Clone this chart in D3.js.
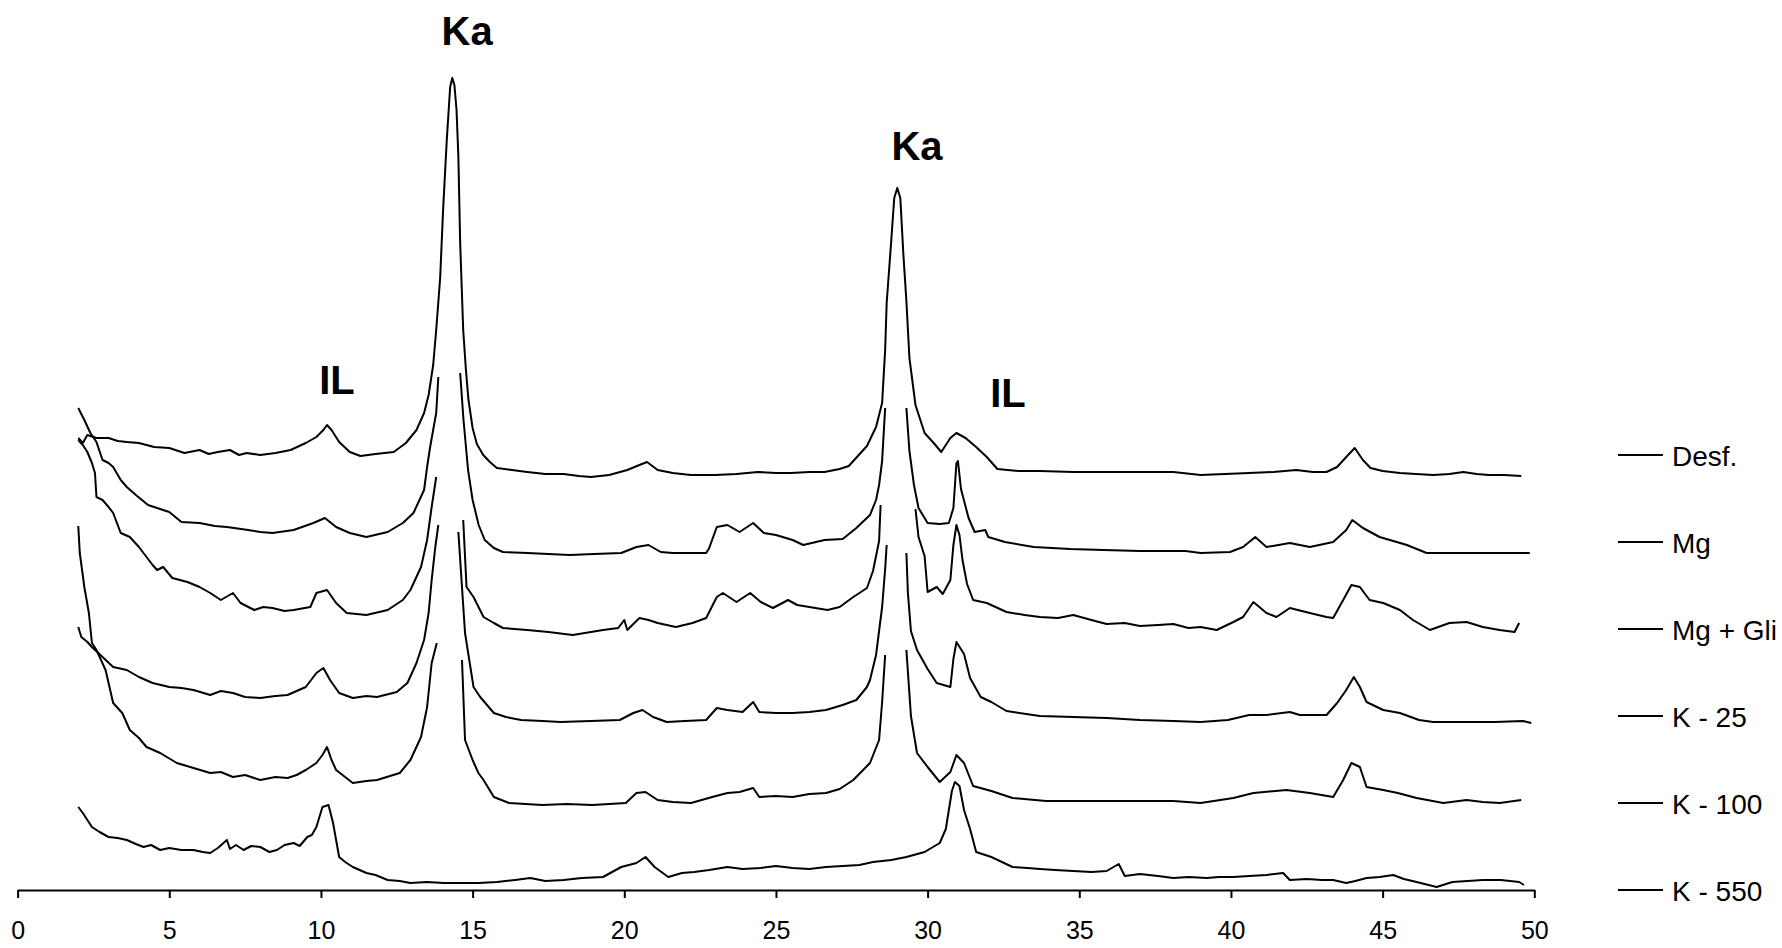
<!DOCTYPE html>
<html>
<head>
<meta charset="utf-8">
<script src="https://cdn.jsdelivr.net/npm/d3@7"></script>
<style>
  html, body { margin: 0; padding: 0; background: #fff; }
  svg { display: block; }
  text { font-family: "Liberation Sans", Arial, sans-serif; fill: #000; }
</style>
</head>
<body>
<svg id="chart" width="1782" height="948"></svg>
<script>
// 2-theta (degrees) vs relative intensity (a.u., vertically offset traces). null = gap in trace
const xTicks = [0, 5, 10, 15, 20, 25, 30, 35, 40, 45, 50];
const seriesNames = ["Desf.", "Mg", "Mg + Gli", "K - 25", "K - 100", "K - 550"];

const desf = [
[2.0,452],[2.15,447],[2.3,455],[2.6,452],[3.0,452],[3.3,449],[3.6,448],[4.0,447],[4.5,443],[5.0,442],[5.5,437],[6.0,440],[6.3,436],[6.6,438],[7.0,440],[7.3,435],[7.55,437],[8.0,435],[8.5,437],[9.0,440],[9.5,447],[9.85,453],[10.08,460],[10.2,465],[10.35,460],[10.6,448],[10.95,438],[11.3,434],[11.8,436],[12.4,438],[12.8,447],[13.15,460],[13.4,477],[13.55,495],[13.7,525],[13.8,560],[13.93,612],[14.03,682],[14.15,751],[14.26,803],[14.33,812],[14.4,805],[14.47,780],[14.53,734],[14.59,647],[14.69,560],[14.78,520],[14.86,491],[15.0,462],[15.14,446],[15.35,435],[15.57,428],[15.8,422],[16.3,420],[16.8,418],[17.4,416],[18.0,416],[18.5,414],[18.9,413],[19.5,415],[20.1,420],[20.5,425],[20.75,428],[21.1,420],[21.6,417],[22.2,415],[23.0,415],[23.7,416],[24.4,418],[25.0,417],[25.5,417],[26.1,418],[26.6,418],[27.1,421],[27.4,424],[28.0,444],[28.3,463],[28.5,487],[28.6,540],[28.65,587],[28.8,649],[28.9,692],[29.0,702],[29.1,692],[29.2,636],[29.3,589],[29.4,532],[29.6,485],[29.9,457],[30.2,447],[30.45,438],[30.75,452],[30.95,457],[31.25,452],[31.6,443],[31.95,433],[32.3,421],[33.0,419],[33.7,419],[34.8,418],[35.9,418],[37.0,418],[38.1,418],[39.0,415],[39.8,416],[40.6,417],[41.4,418],[42.15,420],[42.7,418],[43.15,418],[43.5,423],[43.8,433],[44.08,442],[44.35,430],[44.6,422],[45.0,419],[45.57,417],[46.1,416],[46.67,415],[47.2,416],[47.66,418],[48.1,416],[48.5,415],[49.0,415],[49.57,414]
];

const mg = [
[2.0,482],[2.1,476],[2.2,470],[2.4,457],[2.6,448],[2.8,430],[3.0,427],[3.15,423],[3.4,410],[3.6,403],[3.9,395],[4.3,385],[4.6,382],[5.0,378],[5.4,368],[6.0,367],[6.5,364],[6.9,363],[7.6,360],[8.0,358],[8.4,357],[9.1,360],[9.75,367],[10.13,372],[10.5,363],[10.95,357],[11.5,353],[12.2,358],[12.7,367],[13.05,377],[13.4,400],[13.5,423],[13.6,443],[13.8,477],[13.87,513],
[13.9,null],
[14.59,517],[14.7,470],[14.85,420],[15.0,390],[15.2,365],[15.4,350],[15.7,342],[16.0,338],[16.8,337],[17.5,336],[18.2,335],[19.0,336],[19.9,337],[20.4,343],[20.8,345],[21.2,338],[21.6,337],[22.2,337],[22.7,337],[22.8,342],[23.05,363],[23.4,365],[23.8,358],[24.25,367],[24.6,357],[25.0,355],[25.55,350],[25.9,345],[26.6,350],[27.2,351],[27.65,362],[28.1,375],[28.3,390],[28.4,405],[28.5,429],[28.6,482],
[28.9,null],
[29.3,482],[29.4,439],[29.55,405],[29.7,382],[30.0,367],[30.4,366],[30.7,367],[30.85,382],[30.95,427],[31.0,429],[31.1,401],[31.35,372],[31.55,358],[31.9,360],[32.0,353],[32.55,348],[33.5,343],[34.7,341],[35.8,340],[37.0,339],[38.5,339],[39.0,337],[39.97,338],[40.4,343],[40.8,353],[41.17,343],[41.94,347],[42.6,343],[43.37,348],[43.8,360],[44.0,370],[44.35,362],[44.9,353],[45.8,345],[46.45,337],[47.77,337],[49.0,337],[49.85,337]
];

const mgGli = [
[2.0,450],[2.15,445],[2.3,438],[2.45,427],[2.55,417],[2.6,393],[2.8,390],[3.0,383],[3.15,377],[3.4,357],[3.7,353],[4.0,343],[4.25,333],[4.45,325],[4.6,320],[4.8,323],[5.1,312],[5.6,308],[6.0,303],[6.35,297],[6.7,290],[7.1,297],[7.35,287],[7.8,280],[8.1,283],[8.4,282],[8.8,279],[9.1,280],[9.65,283],[9.85,297],[10.2,300],[10.5,287],[10.85,277],[11.5,275],[12.2,280],[12.7,290],[12.95,300],[13.3,323],[13.5,350],[13.65,383],[13.8,413],
[14.2,null],
[14.69,370],[14.8,303],[15.03,293],[15.36,273],[15.7,267],[16.0,262],[16.8,260],[17.5,258],[18.3,255],[19.3,260],[19.8,262],[20.0,270],[20.1,260],[20.5,272],[20.8,270],[21.1,267],[21.7,263],[22.25,267],[22.7,272],[23.05,293],[23.25,297],[23.5,292],[23.7,288],[24.15,297],[24.5,288],[24.9,282],[25.4,290],[25.7,285],[26.1,283],[26.7,280],[27.1,283],[27.55,293],[28.0,302],[28.2,319],[28.4,349],[28.45,385],
[29.0,null],
[29.6,381],[29.7,353],[29.9,334],[30.0,298],[30.3,303],[30.5,296],[30.75,310],[30.85,345],[30.95,365],[31.05,355],[31.15,330],[31.3,306],[31.5,290],[31.95,287],[32.6,278],[33.2,275],[33.7,273],[34.3,272],[34.8,275],[35.4,270],[35.9,266],[36.5,267],[37.0,264],[37.6,265],[38.1,266],[38.6,262],[39.0,263],[39.53,260],[40.08,268],[40.4,273],[40.74,288],[41.17,277],[41.5,273],[41.94,282],[42.6,277],[43.15,273],[43.37,272],[43.7,290],[43.97,305],[44.25,303],[44.57,290],[45.02,287],[45.57,280],[46.0,270],[46.56,260],[47.2,267],[47.77,268],[48.3,263],[48.86,260],[49.35,258],[49.5,267]
];

const k25 = [
[2.0,263],[2.1,253],[2.3,248],[2.45,243],[2.8,233],[3.15,223],[3.6,220],[4.0,213],[4.45,207],[5.0,203],[5.4,202],[5.8,200],[6.35,195],[6.7,199],[7.1,197],[7.5,193],[8.0,192],[8.5,194],[8.9,195],[9.5,203],[9.85,217],[10.08,222],[10.3,210],[10.6,197],[11.05,192],[11.5,194],[11.85,193],[12.5,198],[12.85,207],[13.15,227],[13.4,250],[13.55,277],[13.65,310],[13.77,343],[13.87,365],
[14.2,null],
[14.53,358],[14.75,257],[15.03,203],[15.25,193],[15.7,177],[16.1,173],[16.6,170],[17.3,169],[17.9,168],[18.9,169],[19.85,170],[20.3,177],[20.6,180],[20.95,173],[21.4,168],[22.0,169],[22.7,170],[23.05,182],[23.4,180],[23.9,178],[24.25,188],[24.45,178],[25.0,177],[25.55,177],[26.1,178],[26.65,180],[27.2,185],[27.65,190],[28.0,203],[28.1,210],[28.3,235],[28.5,283],[28.6,321],[28.65,345],
[29.0,null],
[29.3,337],[29.35,297],[29.45,259],[29.65,240],[30.0,221],[30.3,207],[30.75,203],[30.85,231],[30.95,248],[31.2,236],[31.4,212],[31.75,193],[32.1,188],[32.6,179],[33.7,174],[34.8,173],[35.9,172],[37.0,170],[38.1,169],[39.0,168],[39.9,170],[40.6,175],[41.17,175],[41.94,178],[42.27,175],[43.15,175],[43.5,187],[43.8,200],[44.05,213],[44.25,203],[44.47,188],[45.02,180],[45.57,177],[46.2,170],[46.67,168],[47.77,168],[48.7,168],[49.63,169],[49.9,167]
];

const k100 = [
[2.0,364],[2.05,337],[2.2,303],[2.35,277],[2.45,247],[2.6,240],[2.75,230],[2.9,220],[3.15,187],[3.45,177],[3.7,160],[4.0,152],[4.25,143],[4.7,137],[5.25,127],[5.8,122],[6.35,117],[6.7,118],[7.1,113],[7.5,115],[8.0,110],[8.5,113],[8.9,112],[9.2,115],[9.5,120],[9.85,127],[10.05,135],[10.2,143],[10.35,130],[10.5,120],[11.05,107],[11.5,109],[11.85,110],[12.6,117],[12.95,130],[13.3,153],[13.5,183],[13.65,227],[13.82,247],
[14.2,null],
[14.65,230],[14.75,150],[15.0,130],[15.19,117],[15.36,110],[15.7,93],[16.2,87],[17.3,85],[18.1,86],[18.95,85],[20.05,87],[20.4,97],[20.7,98],[21.1,90],[21.6,88],[22.2,87],[22.9,93],[23.4,97],[23.8,98],[24.25,102],[24.45,93],[25.0,94],[25.55,93],[26.1,96],[26.65,97],[27.1,101],[27.55,110],[28.1,127],[28.4,150],[28.5,188],[28.6,235],
[29.0,null],
[29.3,240],[29.45,174],[29.65,137],[30.0,123],[30.4,108],[30.75,118],[30.95,135],[31.2,127],[31.5,104],[32.1,99],[32.8,92],[33.9,89],[34.9,89],[35.9,89],[37.0,89],[38.1,89],[39.0,87],[40.08,92],[40.74,97],[41.83,100],[42.6,97],[43.37,93],[43.7,110],[43.97,127],[44.25,123],[44.47,103],[45.02,100],[45.5,97],[46.12,92],[47.0,87],[47.77,90],[48.3,88],[48.86,87],[49.57,90]
];

const k550 = [
[2.0,83],[2.15,77],[2.3,70],[2.45,63],[2.7,58],[3.0,53],[3.3,52],[3.6,50],[3.9,46],[4.15,43],[4.4,45],[4.7,40],[5.0,42],[5.4,40],[5.8,40],[6.1,38],[6.35,37],[6.6,42],[6.9,50],[7.0,41],[7.2,45],[7.45,40],[7.7,44],[8.0,43],[8.3,38],[8.55,40],[8.8,45],[9.1,47],[9.3,44],[9.55,53],[9.7,55],[9.85,63],[10.05,83],[10.25,85],[10.4,67],[10.6,33],[10.8,28],[11.05,23],[11.5,17],[11.8,15],[12.2,10],[12.6,9],[12.95,7],[13.5,8],[14.05,7],[14.6,7],[15.2,7],[15.8,8],[16.4,10],[16.9,12],[17.4,9],[18.0,10],[18.6,12],[19.3,13],[19.6,18],[19.9,23],[20.4,27],[20.7,33],[21.0,23],[21.45,13],[21.9,17],[22.3,18],[22.8,20],[23.4,23],[23.9,21],[24.5,22],[25.0,24],[25.55,22],[26.1,21],[26.65,23],[27.2,24],[27.75,25],[28.2,28],[28.8,30],[29.3,33],[29.9,38],[30.4,47],[30.6,61],[30.8,99],[30.9,108],[31.05,104],[31.2,80],[31.4,61],[31.6,38],[32.1,33],[32.8,23],[33.3,22],[33.7,21],[34.2,20],[34.8,19],[35.4,18],[35.9,19],[36.3,26],[36.5,14],[37.0,16],[37.6,14],[38.1,12],[38.6,13],[39.2,12],[39.6,13],[40.08,13],[40.6,14],[41.17,15],[41.72,17],[41.94,10],[42.5,11],[43.0,10],[43.37,10],[43.8,7],[44.1,9],[44.47,12],[44.9,13],[45.35,15],[45.7,11],[46.12,8],[46.78,3],[47.3,8],[47.8,9],[48.3,10],[48.9,10],[49.5,8],[49.66,5]
];

// Peak annotations: label, 2-theta position, intensity (baseline of label)
const peakLabels = ["Ka", "Ka", "IL", "IL"];
const peakLabelX = [14.82, 29.65, 10.53, 32.65];
const peakLabelY = [845, 730, 496, 483];

const allSeries = [desf, mg, mgGli, k25, k100, k550];

const svg = d3.select("#chart");
svg.append("rect").attr("width", 1782).attr("height", 948).attr("fill", "#fff");

const x = d3.scaleLinear().domain([0, 50]).range([17.6, 1534.3]);
const y = d3.scaleLinear().domain([0, 820]).range([890, 70]);

const line = d3.line()
  .defined(d => d[1] !== null)
  .x(d => x(d[0]))
  .y(d => y(d[1]))
  .curve(d3.curveLinear);

svg.append("g").selectAll("path")
  .data(allSeries)
  .join("path")
  .attr("d", line)
  .attr("fill", "none")
  .attr("stroke", "#000")
  .attr("stroke-width", 2)
  .attr("stroke-linejoin", "round");

// X axis
const xAxis = d3.axisBottom(x)
  .tickValues(xTicks)
  .tickFormat(d3.format("d"))
  .tickSizeInner(8)
  .tickSizeOuter(0)
  .tickPadding(23);

const gx = svg.append("g")
  .attr("transform", `translate(0,${y(0)})`)
  .call(xAxis);
gx.select(".domain").attr("stroke", "#000").attr("stroke-width", 2);
gx.selectAll(".tick line").attr("stroke", "#000").attr("stroke-width", 2);
gx.selectAll(".tick text")
  .attr("font-family", "Liberation Sans, Arial, sans-serif")
  .attr("font-size", 25)
  .attr("fill", "#000");

// Peak labels
svg.append("g").selectAll("text")
  .data(peakLabels)
  .join("text")
  .attr("x", (d, i) => x(peakLabelX[i]))
  .attr("y", (d, i) => y(peakLabelY[i]))
  .attr("text-anchor", "middle")
  .attr("font-size", 40)
  .attr("font-weight", "bold")
  .text(d => d);

// Legend
const legendX0 = 1618, legendX1 = 1663, legendTop = 455, legendStep = 87;
const lg = svg.append("g").selectAll("g")
  .data(seriesNames)
  .join("g")
  .attr("transform", (d, i) => `translate(0,${legendTop + i * legendStep})`);
lg.append("line")
  .attr("x1", legendX0).attr("x2", legendX1)
  .attr("y1", 0).attr("y2", 0)
  .attr("stroke", "#000").attr("stroke-width", 2);
lg.append("text")
  .attr("x", 1672).attr("y", 10.5)
  .attr("font-size", 28)
  .text(d => d);
</script>
</body>
</html>
